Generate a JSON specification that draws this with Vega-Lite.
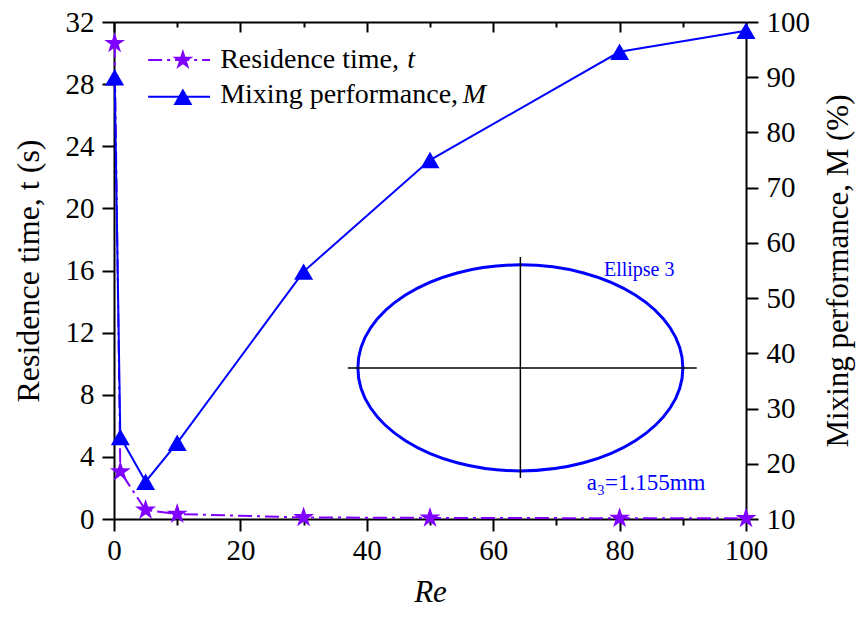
{
  "$schema": "https://vega.github.io/schema/vega-lite/v6.json",
  "width": 632,
  "height": 497,
  "autosize": {"type": "none"},
  "padding": {"left": 114, "top": 22, "right": 115, "bottom": 98},
  "background": "white",
  "config": {
    "view": {"stroke": null},
    "font": "Liberation Serif",
    "style": {
      "guide-label": {"font": "Liberation Serif", "fontSize": 29, "fill": "black"},
      "guide-title": {"font": "Liberation Serif", "fontSize": 32, "fill": "black", "fontWeight": "normal"}
    },
    "axis": {
      "domainColor": "black", "domainWidth": 2,
      "tickColor": "black", "tickWidth": 2,
      "labelFont": "Liberation Serif", "labelFontSize": 29, "labelColor": "black",
      "titleFont": "Liberation Serif", "titleFontSize": 32, "titleFontWeight": "normal", "titleColor": "black",
      "grid": false
    }
  },
  "datasets": {
    "series": [
      {"Re": 0.1, "t": 30.63, "M": 90.0},
      {"Re": 1, "t": 3.05, "M": 24.85},
      {"Re": 5, "t": 0.58, "M": 16.75},
      {"Re": 10, "t": 0.32, "M": 23.8},
      {"Re": 30, "t": 0.1, "M": 54.8},
      {"Re": 50, "t": 0.07, "M": 75.0},
      {"Re": 80, "t": 0.05, "M": 94.6},
      {"Re": 100, "t": 0.04, "M": 98.4}
    ],
    "cross": [
      {"x": 37.0, "x2": 92.2, "y": 9.73, "y2": 9.73},
      {"x": 64.3, "x2": 64.3, "y": 16.87, "y2": 2.64}
    ],
    "ellipse": [{"x": 64.3, "y": 9.73}],
    "noteTop": [{"x": 83.1, "y": 16.03, "label": "Ellipse 3"}],
    "noteBottom": [{"x": 84.2, "y": 2.32, "label": "a₃=1.155mm"}],
    "legLines": [
      {"x": 5.4, "x2": 15.2, "y": 29.55, "s": "t"},
      {"x": 5.4, "x2": 15.2, "y": 27.19, "s": "M"}
    ],
    "legStar": [{"x": 10.9, "y": 29.55}],
    "legTri": [{"x": 10.9, "y": 27.19}],
    "legText": [
      {"x": 16.8, "y": 29.04, "label": "Residence time,"},
      {"x": 16.8, "y": 26.79, "label": "Mixing performance,"}
    ],
    "legItal": [
      {"x": 46.4, "y": 29.04, "label": "t"},
      {"x": 55.2, "y": 26.79, "label": "M"}
    ]
  },
  "resolve": {"scale": {"y": "independent"}, "axis": {"x": "independent"}},
  "layer": [
    {
      "layer": [
        {
          "data": {"name": "series"},
          "mark": {"type": "line", "color": "#8000FF", "strokeWidth": 2, "strokeDash": [14, 5, 3, 5]},
          "encoding": {
            "x": {
              "field": "Re", "type": "quantitative",
              "scale": {"domain": [0, 100], "nice": false, "zero": false},
              "axis": {
                "orient": "bottom",
                "values": [0, 10, 20, 30, 40, 50, 60, 70, 80, 90, 100],
                "labelExpr": "datum.value % 20 === 0 ? datum.label : ''",
                "tickSize": {"condition": {"test": "datum.value % 20 === 0", "value": 12}, "value": 6},
                "labelFont": "Liberation Serif", "labelFontSize": 29, "labelColor": "black",
                "labelPadding": 5,
                "labelFlush": false,
                "labelOverlap": false,
                "title": "Re",
                "titleFont": "Liberation Serif", "titleFontSize": 31,
                "titleFontStyle": "italic",
                "titlePadding": 12
              }
            },
            "y": {
              "field": "t", "type": "quantitative",
              "scale": {"domain": [0, 32], "nice": false, "zero": false},
              "axis": {
                "orient": "left",
                "values": [0, 2, 4, 6, 8, 10, 12, 14, 16, 18, 20, 22, 24, 26, 28, 30, 32],
                "labelExpr": "datum.value % 4 === 0 ? datum.label : ''",
                "tickSize": {"condition": {"test": "datum.value % 4 === 0", "value": 12}, "value": 6},
                "labelFont": "Liberation Serif", "labelFontSize": 29, "labelColor": "black",
                "labelPadding": 8,
                "labelFlush": false,
                "labelOverlap": false,
                "title": "Residence time, t (s)",
                "titleFont": "Liberation Serif", "titleFontSize": 32,
                "titlePadding": 20
              }
            }
          }
        },
        {
          "data": {"name": "series"},
          "mark": {
            "type": "point", "filled": true, "color": "#8000FF", "opacity": 1, "size": 484,
            "shape": "M0,-1L0.2245,-0.309L0.951,-0.309L0.363,0.118L0.588,0.809L0,0.382L-0.588,0.809L-0.363,0.118L-0.951,-0.309L-0.2245,-0.309Z"
          },
          "encoding": {
            "x": {"field": "Re", "type": "quantitative"},
            "y": {"field": "t", "type": "quantitative"}
          }
        },
        {
          "data": {"name": "ellipse"},
          "mark": {
            "type": "point", "filled": false, "stroke": "#0000FF", "strokeWidth": 3, "opacity": 1,
            "size": 105625,
            "shape": "M-1,0A1,0.634 0 1,1 1,0A1,0.634 0 1,1 -1,0Z"
          },
          "encoding": {
            "x": {"field": "x", "type": "quantitative"},
            "y": {"field": "y", "type": "quantitative"}
          }
        },
        {
          "data": {"name": "cross"},
          "mark": {"type": "rule", "color": "black", "strokeWidth": 1.5},
          "encoding": {
            "x": {"field": "x", "type": "quantitative"},
            "x2": {"field": "x2"},
            "y": {"field": "y", "type": "quantitative"},
            "y2": {"field": "y2"}
          }
        },
        {
          "data": {"name": "noteTop"},
          "mark": {"type": "text", "color": "#0000FF", "fontSize": 20, "font": "Liberation Serif", "align": "center", "baseline": "middle"},
          "encoding": {
            "x": {"field": "x", "type": "quantitative"},
            "y": {"field": "y", "type": "quantitative"},
            "text": {"field": "label"}
          }
        },
        {
          "data": {"name": "noteBottom"},
          "mark": {"type": "text", "color": "#0000FF", "fontSize": 23, "font": "Liberation Serif", "align": "center", "baseline": "middle"},
          "encoding": {
            "x": {"field": "x", "type": "quantitative"},
            "y": {"field": "y", "type": "quantitative"},
            "text": {"field": "label"}
          }
        },
        {
          "data": {"name": "legLines"},
          "mark": {"type": "rule", "strokeWidth": 2},
          "encoding": {
            "x": {"field": "x", "type": "quantitative"},
            "x2": {"field": "x2"},
            "y": {"field": "y", "type": "quantitative"},
            "color": {"field": "s", "type": "nominal", "scale": {"domain": ["t", "M"], "range": ["#8000FF", "#0000FF"]}, "legend": null},
            "strokeDash": {"field": "s", "type": "nominal", "scale": {"domain": ["t", "M"], "range": [[14, 5, 3, 5], [1, 0]]}, "legend": null}
          }
        },
        {
          "data": {"name": "legStar"},
          "mark": {
            "type": "point", "filled": true, "color": "#8000FF", "opacity": 1, "size": 484,
            "shape": "M0,-1L0.2245,-0.309L0.951,-0.309L0.363,0.118L0.588,0.809L0,0.382L-0.588,0.809L-0.363,0.118L-0.951,-0.309L-0.2245,-0.309Z"
          },
          "encoding": {
            "x": {"field": "x", "type": "quantitative"},
            "y": {"field": "y", "type": "quantitative"}
          }
        },
        {
          "data": {"name": "legTri"},
          "mark": {"type": "point", "filled": true, "color": "#0000FF", "opacity": 1, "size": 361, "shape": "triangle-up"},
          "encoding": {
            "x": {"field": "x", "type": "quantitative"},
            "y": {"field": "y", "type": "quantitative"}
          }
        },
        {
          "data": {"name": "legText"},
          "mark": {"type": "text", "color": "black", "fontSize": 28, "font": "Liberation Serif", "align": "left", "baseline": "alphabetic"},
          "encoding": {
            "x": {"field": "x", "type": "quantitative"},
            "y": {"field": "y", "type": "quantitative"},
            "text": {"field": "label"}
          }
        },
        {
          "data": {"name": "legItal"},
          "mark": {"type": "text", "color": "black", "fontSize": 28, "font": "Liberation Serif", "fontStyle": "italic", "align": "left", "baseline": "alphabetic"},
          "encoding": {
            "x": {"field": "x", "type": "quantitative"},
            "y": {"field": "y", "type": "quantitative"},
            "text": {"field": "label"}
          }
        }
      ]
    },
    {
      "layer": [
        {
          "data": {"name": "series"},
          "mark": {"type": "line", "color": "#0000FF", "strokeWidth": 2},
          "encoding": {
            "x": {
              "field": "Re", "type": "quantitative",
              "scale": {"domain": [0, 100], "nice": false, "zero": false},
              "axis": {
                "orient": "top",
                "values": [0, 10, 20, 30, 40, 50, 60, 70, 80, 90, 100],
                "labels": false,
                "tickSize": {"condition": {"test": "datum.value % 20 === 0", "value": -10}, "value": -5},
                "title": null
              }
            },
            "y": {
              "field": "M", "type": "quantitative",
              "scale": {"domain": [10, 100], "nice": false, "zero": false},
              "axis": {
                "orient": "right",
                "values": [10, 15, 20, 25, 30, 35, 40, 45, 50, 55, 60, 65, 70, 75, 80, 85, 90, 95, 100],
                "labelExpr": "datum.value % 10 === 0 ? datum.label : ''",
                "tickSize": {"condition": {"test": "datum.value % 10 === 0", "value": 12}, "value": 6},
                "labelFont": "Liberation Serif", "labelFontSize": 29, "labelColor": "black",
                "labelPadding": 8,
                "labelFlush": false,
                "labelOverlap": false,
                "title": "Mixing performance, M (%)",
                "titleFont": "Liberation Serif", "titleFontSize": 31,
                "titleAngle": 270,
                "titleBaseline": "top",
                "titlePadding": 14
              }
            }
          }
        },
        {
          "data": {"name": "series"},
          "mark": {"type": "point", "filled": true, "color": "#0000FF", "opacity": 1, "size": 361, "shape": "triangle-up"},
          "encoding": {
            "x": {"field": "Re", "type": "quantitative"},
            "y": {"field": "M", "type": "quantitative"}
          }
        }
      ]
    }
  ]
}
